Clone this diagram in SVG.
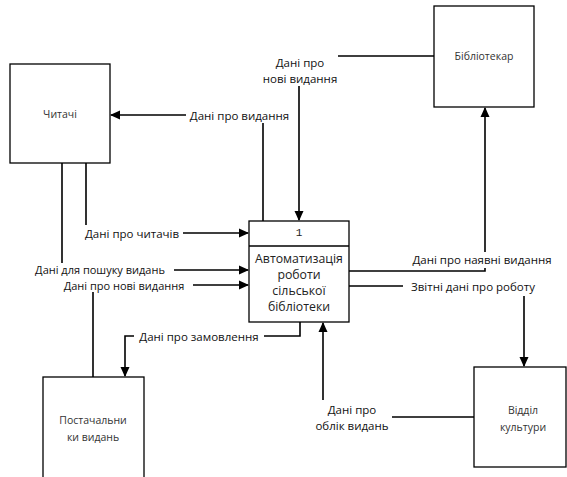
<svg xmlns="http://www.w3.org/2000/svg" width="567" height="477" viewBox="0 0 567 477">
<defs>
<style>
.box{fill:#fff;stroke:#000;stroke-width:1.3}
.ntx{font-family:"Open Sans","Liberation Sans",sans-serif;font-size:10.5px;fill:#333;text-anchor:middle;dominant-baseline:central}
.ptx{font-family:"Open Sans","Liberation Sans",sans-serif;font-size:12.3px;fill:#222;text-anchor:middle;dominant-baseline:central}
.ln{fill:none;stroke:#000;stroke-width:1.6}
.lbg{fill:#fff}
.ltx{font-family:"Open Sans","Liberation Sans",sans-serif;font-size:11.5px;fill:#111;text-anchor:middle;dominant-baseline:central}
.ltx2{font-family:"Open Sans","Liberation Sans",sans-serif;font-size:11px;fill:#111;text-anchor:middle;dominant-baseline:central}
</style>
<marker id="ar" markerWidth="10" markerHeight="10" refX="9" refY="5" orient="auto" markerUnits="userSpaceOnUse">
<path d="M0,0.5 L10,5 L0,9.5 Z" fill="#000"/>
</marker>
</defs>
<rect width="567" height="477" fill="#fff"/>
<g id="connectors">
<path class="ln" d="M263,221 V115 H111" marker-end="url(#ar)"/>
<path class="ln" d="M434,56 H299 V220" marker-end="url(#ar)"/>
<path class="ln" d="M349,271 H485 V108" marker-end="url(#ar)"/>
<path class="ln" d="M349,286 H524 V366" marker-end="url(#ar)"/>
<path class="ln" d="M474,417 H323 V323" marker-end="url(#ar)"/>
<path class="ln" d="M86,163 V233 H248" marker-end="url(#ar)"/>
<path class="ln" d="M62,163 V270 H248" marker-end="url(#ar)"/>
<path class="ln" d="M93,377 V285 H248" marker-end="url(#ar)"/>
<path class="ln" d="M300,322 V336 H125 V376" marker-end="url(#ar)"/>
<g id="labels">
<rect class="lbg" x="186" y="107" width="107" height="16"/>
<text class="ltx" x="239.5" y="115">Дані про видання</text>
<rect class="lbg" x="260" y="53" width="78" height="33"/>
<text class="ltx" x="300" y="62">Дані про</text>
<text class="ltx" x="300" y="78">нові видання</text>
<rect class="lbg" x="409" y="252" width="147" height="16"/>
<text class="ltx" x="482" y="259">Дані про наявні видання</text>
<rect class="lbg" x="403" y="278" width="141" height="18"/>
<text class="ltx" x="473" y="286">Звітні дані про роботу</text>
<rect class="lbg" x="311" y="400" width="81" height="33"/>
<text class="ltx" x="352" y="409">Дані про</text>
<text class="ltx" x="352" y="425">облік видань</text>
<rect class="lbg" x="82" y="225" width="101" height="16"/>
<text class="ltx" x="132" y="233">Дані про читачів</text>
<rect class="lbg" x="27" y="263" width="147" height="14"/>
<text class="ltx2" x="100" y="269.5">Дані для пошуку видань</text>
<rect class="lbg" x="56" y="278" width="137" height="14"/>
<text class="ltx2" x="124" y="285.5">Дані про нові видання</text>
<rect class="lbg" x="134" y="328" width="130" height="16"/>
<text class="ltx" x="199" y="336">Дані про замовлення</text>
</g>
</g>
<g id="chytachi">
<rect class="box" x="10" y="64" width="100" height="99"/>
<text class="ntx" x="60" y="114">Читачі</text>
</g>
<g id="bibliotekar">
<rect class="box" x="434" y="6" width="100" height="101"/>
<text class="ntx" x="484" y="56">Бібліотекар</text>
</g>
<g id="process">
<rect class="box" x="249" y="221" width="100" height="101"/>
<line x1="249" y1="246" x2="349" y2="246" stroke="#000" stroke-width="1.3"/>
<text class="ptx" x="299" y="233" style="font-family:'Liberation Mono',monospace;font-size:11px">1</text>
<text class="ptx" x="299" y="258">Автоматизація</text>
<text class="ptx" x="299" y="274">роботи</text>
<text class="ptx" x="299" y="290">сільської</text>
<text class="ptx" x="299" y="306">бібліотеки</text>
</g>
<g id="postachalnyky">
<rect class="box" x="43" y="377" width="101" height="103"/>
<text class="ntx" x="93" y="420">Постачальни</text>
<text class="ntx" x="93" y="437">ки видань</text>
</g>
<g id="viddil">
<rect class="box" x="474" y="367" width="92" height="100"/>
<text class="ntx" x="523" y="410">Відділ</text>
<text class="ntx" x="523" y="427">культури</text>
</g>
</svg>
